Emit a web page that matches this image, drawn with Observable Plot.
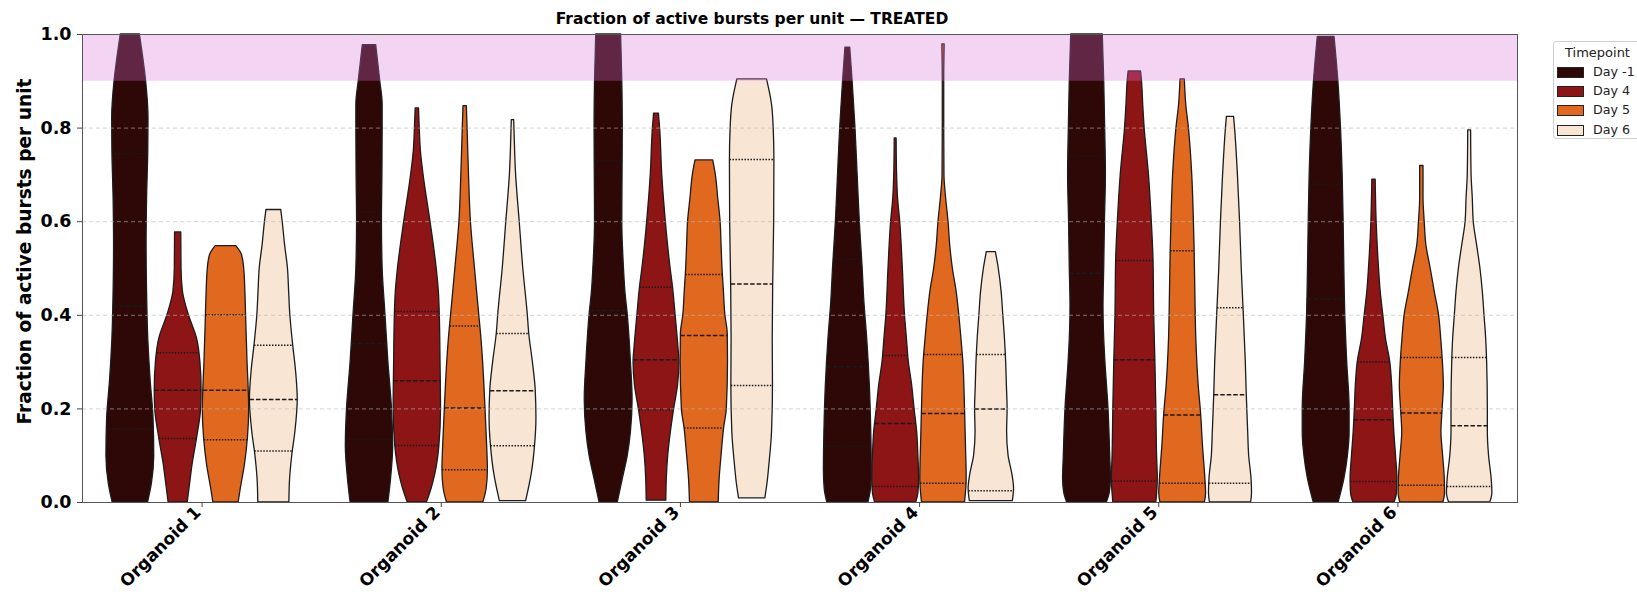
<!DOCTYPE html>
<html>
<head>
<meta charset="utf-8">
<script src="https://cdn.jsdelivr.net/npm/d3@7"></script>
<script src="https://cdn.jsdelivr.net/npm/@observablehq/plot@0.6"></script>
<style>
  html, body { margin: 0; padding: 0; background: #fff; overflow: hidden; }
  #wrap { position: relative; width: 1637px; height: 599px; font-family: "DejaVu Sans", sans-serif; }
  #title { position: absolute; top: 10px; left: 752px; transform: translateX(-50%); font-weight: bold; font-size: 15.5px; white-space: nowrap; color: #000; }
  #legend { position: absolute; left: 1553px; top: 41px; width: 100px; height: 98px; border: 1px solid #d0d0d0; border-radius: 3px; background: #fff; box-sizing: border-box; }
  #legend .lt { position: absolute; left: 11px; top: 3px; font-size: 13px; color: #222; }
  #legend .row { position: absolute; left: 3px; height: 14px; font-size: 12.7px; color: #222; }
  #legend .sw { position: absolute; left: 0; top: 2px; width: 25px; height: 9px; border: 1px solid #222; }
  #legend .lab { position: absolute; left: 36px; top: -1px; white-space: nowrap; }
</style>
</head>
<body>
<div id="wrap">
  <div id="chart"></div>
  <div id="title"></div>
  <div id="legend"></div>
</div>
<script>
// ---------- data ----------
const chartTitle = "Fraction of active bursts per unit — TREATED";
const yLabel = "Fraction of active bursts per unit";
const legendTitle = "Timepoint";
const organoids = ["Organoid 1", "Organoid 2", "Organoid 3", "Organoid 4", "Organoid 5", "Organoid 6"];
const timepoints = ["Day -1", "Day 4", "Day 5", "Day 6"];
const palette = ["#2e0707", "#8e1516", "#e0691f", "#f8e5d3"];
const yTicks = [0, 0.2, 0.4, 0.6, 0.8, 1.0];
const gridTicks = [0.2, 0.4, 0.6, 0.8];
const highlightBand = [[0.9, 1.0]];

// violin profiles: [value, relative half-width] from min to max, one per timepoint
const org1Profiles = [
  [[0,0.74],[0.04,0.9],[0.1,1.0],[0.18,0.97],[0.26,0.85],[0.35,0.75],[0.45,0.7],[0.55,0.68],[0.65,0.7],[0.75,0.75],[0.82,0.76],[0.9,0.66],[0.95,0.54],[1.0,0.4]],
  [[0,0.4],[0.04,0.5],[0.08,0.6],[0.14,0.8],[0.2,0.96],[0.24,0.98],[0.3,0.93],[0.35,0.79],[0.4,0.45],[0.45,0.2],[0.5,0.14],[0.577,0.13]],
  [[0,0.53],[0.03,0.62],[0.08,0.79],[0.14,0.92],[0.2,0.97],[0.24,0.95],[0.3,0.9],[0.4,0.84],[0.45,0.81],[0.5,0.76],[0.53,0.66],[0.548,0.43]],
  [[0,0.65],[0.05,0.68],[0.1,0.77],[0.15,0.9],[0.22,1.0],[0.28,0.93],[0.34,0.8],[0.4,0.69],[0.45,0.64],[0.5,0.59],[0.55,0.47],[0.6,0.37],[0.625,0.31]]
];
const org2Profiles = [
  [[0,0.79],[0.05,0.9],[0.12,0.99],[0.2,0.94],[0.3,0.79],[0.4,0.67],[0.5,0.55],[0.6,0.52],[0.7,0.54],[0.8,0.55],[0.85,0.55],[0.9,0.45],[0.95,0.34],[0.977,0.28]],
  [[0,0.4],[0.03,0.6],[0.06,0.75],[0.12,0.92],[0.2,0.99],[0.3,0.97],[0.4,0.94],[0.45,0.9],[0.5,0.81],[0.6,0.55],[0.7,0.26],[0.75,0.15],[0.8,0.1],[0.842,0.07]],
  [[0,0.76],[0.03,0.9],[0.07,0.95],[0.12,0.92],[0.2,0.85],[0.3,0.75],[0.35,0.68],[0.4,0.59],[0.5,0.41],[0.6,0.24],[0.7,0.16],[0.8,0.1],[0.847,0.07]],
  [[0.003,0.55],[0.06,0.78],[0.12,0.92],[0.18,0.98],[0.24,0.95],[0.3,0.83],[0.36,0.68],[0.4,0.62],[0.5,0.43],[0.6,0.28],[0.7,0.13],[0.8,0.06],[0.817,0.05]]
];
const org3Profiles = [
  [[0,0.38],[0.05,0.59],[0.1,0.8],[0.15,0.93],[0.22,1.0],[0.3,0.93],[0.4,0.8],[0.45,0.7],[0.5,0.64],[0.6,0.57],[0.7,0.58],[0.8,0.59],[0.9,0.57],[1.0,0.52]],
  [[0.004,0.41],[0.05,0.43],[0.1,0.49],[0.15,0.6],[0.2,0.74],[0.25,0.9],[0.3,0.96],[0.33,0.92],[0.4,0.8],[0.46,0.69],[0.5,0.59],[0.6,0.39],[0.7,0.24],[0.8,0.15],[0.831,0.1]],
  [[0,0.6],[0.05,0.64],[0.1,0.72],[0.16,0.83],[0.2,0.94],[0.3,0.99],[0.36,0.98],[0.4,0.88],[0.45,0.82],[0.5,0.76],[0.55,0.72],[0.6,0.68],[0.65,0.58],[0.7,0.48],[0.731,0.37]],
  [[0.009,0.55],[0.04,0.64],[0.08,0.72],[0.15,0.83],[0.25,0.87],[0.35,0.86],[0.47,0.88],[0.6,0.92],[0.73,0.93],[0.8,0.9],[0.85,0.83],[0.904,0.62]]
];
const org4Profiles = [
  [[0,0.86],[0.03,0.97],[0.07,1.0],[0.15,0.98],[0.25,0.92],[0.35,0.81],[0.43,0.69],[0.5,0.62],[0.6,0.5],[0.7,0.41],[0.8,0.32],[0.9,0.2],[0.972,0.1]],
  [[0,0.86],[0.02,0.95],[0.05,0.98],[0.1,0.95],[0.15,0.9],[0.2,0.79],[0.25,0.69],[0.3,0.55],[0.35,0.47],[0.4,0.39],[0.5,0.3],[0.6,0.19],[0.65,0.1],[0.7,0.06],[0.778,0.04]],
  [[0,0.9],[0.05,0.97],[0.12,0.94],[0.2,0.9],[0.3,0.83],[0.35,0.75],[0.4,0.66],[0.45,0.55],[0.5,0.39],[0.55,0.28],[0.6,0.21],[0.65,0.11],[0.7,0.04],[0.8,0.03],[0.9,0.03],[0.979,0.05]],
  [[0.003,0.9],[0.03,0.95],[0.06,0.88],[0.1,0.72],[0.15,0.66],[0.2,0.68],[0.25,0.65],[0.3,0.62],[0.35,0.57],[0.4,0.5],[0.45,0.43],[0.5,0.31],[0.535,0.19]]
];
const org5Profiles = [
  [[0,0.83],[0.02,0.95],[0.05,1.0],[0.1,0.97],[0.2,0.9],[0.3,0.77],[0.35,0.72],[0.42,0.69],[0.5,0.72],[0.6,0.75],[0.7,0.79],[0.8,0.76],[0.9,0.72],[1.0,0.66]],
  [[0,0.9],[0.05,0.96],[0.1,0.93],[0.2,0.9],[0.3,0.86],[0.4,0.81],[0.52,0.78],[0.6,0.71],[0.7,0.59],[0.8,0.41],[0.85,0.35],[0.9,0.3],[0.921,0.26]],
  [[0,0.93],[0.02,0.98],[0.05,0.95],[0.12,0.85],[0.19,0.77],[0.25,0.67],[0.35,0.57],[0.45,0.53],[0.54,0.5],[0.6,0.47],[0.7,0.4],[0.8,0.26],[0.85,0.15],[0.904,0.09]],
  [[0,0.86],[0.02,0.9],[0.05,0.88],[0.1,0.78],[0.15,0.74],[0.23,0.68],[0.3,0.64],[0.42,0.54],[0.5,0.47],[0.6,0.4],[0.7,0.31],[0.8,0.19],[0.824,0.15]]
];
const org6Profiles = [
  [[0,0.52],[0.05,0.76],[0.1,0.91],[0.15,0.98],[0.2,0.98],[0.3,0.88],[0.4,0.8],[0.5,0.76],[0.6,0.73],[0.7,0.69],[0.8,0.62],[0.9,0.51],[0.995,0.35]],
  [[0,0.86],[0.02,0.96],[0.05,0.98],[0.1,0.92],[0.15,0.85],[0.2,0.8],[0.25,0.76],[0.3,0.68],[0.35,0.5],[0.4,0.39],[0.45,0.28],[0.5,0.21],[0.6,0.11],[0.69,0.07]],
  [[0,0.9],[0.02,0.97],[0.05,0.96],[0.1,0.89],[0.15,0.82],[0.2,0.87],[0.25,0.92],[0.3,0.88],[0.35,0.81],[0.4,0.72],[0.45,0.54],[0.5,0.37],[0.55,0.19],[0.6,0.12],[0.65,0.07],[0.719,0.07]],
  [[0,0.86],[0.02,0.95],[0.05,0.92],[0.1,0.81],[0.15,0.76],[0.2,0.76],[0.3,0.73],[0.35,0.69],[0.4,0.62],[0.45,0.55],[0.5,0.45],[0.55,0.31],[0.6,0.17],[0.65,0.13],[0.7,0.08],[0.795,0.06]]
];

// quartiles [Q1, median, Q3] per timepoint
const org1Quartiles = [[0.157,0.42,0.745],[0.137,0.24,0.32],[0.134,0.24,0.401],[0.11,0.22,0.336]];
const org2Quartiles = [[0.135,0.34,0.62],[0.122,0.26,0.408],[0.07,0.202,0.377],[0.121,0.239,0.361]];
const org3Quartiles = [[0.2,0.41,0.73],[0.198,0.305,0.46],[0.159,0.357,0.487],[0.25,0.467,0.733]];
const org4Quartiles = [[0.12,0.29,0.52],[0.034,0.169,0.314],[0.041,0.19,0.316],[0.025,0.2,0.316]];
const org5Quartiles = [[0.2,0.49,0.74],[0.046,0.305,0.517],[0.041,0.187,0.538],[0.041,0.23,0.416]];
const org6Quartiles = [[0.2,0.435,0.68],[0.045,0.177,0.3],[0.037,0.191,0.31],[0.034,0.164,0.31]];

// ---------- build tables ----------
const allProfiles = [org1Profiles, org2Profiles, org3Profiles, org4Profiles, org5Profiles, org6Profiles];
const allQuartiles = [org1Quartiles, org2Quartiles, org3Quartiles, org4Quartiles, org5Quartiles, org6Quartiles];
const groupWidth = 0.8;
const slot = groupWidth / timepoints.length;
const half = slot / 2;

function widthAt(prof, v) {
  for (let i = 1; i < prof.length; i++) {
    if (v <= prof[i][0]) {
      const [v0, w0] = prof[i - 1], [v1, w1] = prof[i];
      return w0 + (w1 - w0) * (v - v0) / (v1 - v0);
    }
  }
  return prof[prof.length - 1][1];
}

const violinRows = [];
const medianRows = [];
const quartRows = [];
allProfiles.forEach((orgProf, gi) => {
  orgProf.forEach((prof, ti) => {
    const c = gi + (ti - (timepoints.length - 1) / 2) * slot;
    const id = gi * timepoints.length + ti;
    prof.forEach(([v, w]) => violinRows.push({id, day: timepoints[ti], v, lo: c - w * half, hi: c + w * half}));
    allQuartiles[gi][ti].forEach((q, k) => {
      const w = widthAt(prof, q);
      const row = {v: q, lo: c - w * half, hi: c + w * half, day: timepoints[ti]};
      (k === 1 ? medianRows : quartRows).push(row);
    });
  });
});
const organoidTicks = organoids.map((name, i) => ({i, name}));

const chart = Plot.plot({
  width: 1637,
  height: 599,
  marginLeft: 82,
  marginRight: 120,
  marginTop: 34,
  marginBottom: 97,
  style: {fontFamily: "DejaVu Sans, sans-serif", color: "#000", background: "transparent"},
  x: {domain: [-0.5, organoids.length - 0.5], axis: null},
  y: {domain: [0, 1], axis: null},
  color: {domain: timepoints, range: palette},
  marks: [
    Plot.areaX(violinRows, {y: "v", x1: "lo", x2: "hi", z: "id", fill: "day", stroke: "#1c1c1c", strokeWidth: 1.3, curve: "monotone-y"}),
    Plot.ruleY(quartRows, {y: "v", x1: "lo", x2: "hi", stroke: "#1a1a1a", strokeWidth: 1.5, strokeDasharray: "1.5,1.5"}),
    Plot.ruleY(medianRows, {y: "v", x1: "lo", x2: "hi", stroke: "#1a1a1a", strokeWidth: 1.5, strokeDasharray: "4.5,2"}),
    Plot.rect(highlightBand, {y1: d => d[0], y2: d => d[1], fill: "orchid", fillOpacity: 0.3}),
    Plot.gridY(gridTicks, {stroke: "#b8b8b8", strokeOpacity: 0.6, strokeDasharray: "4,3"}),
    Plot.frame({stroke: "#555", strokeWidth: 1}),
    Plot.axisY(yTicks, {tickFormat: d3.format(".1f"), fontWeight: "bold", fontSize: 17.5, tickSize: 5, tickPadding: 6, label: null, stroke: "#444"}),
    Plot.axisX(organoidTicks.map(d => d.i), {tickFormat: () => "", tickSize: 5, label: null, stroke: "#444"}),
    Plot.text(organoidTicks, {x: "i", text: "name", frameAnchor: "bottom", textAnchor: "end", lineAnchor: "middle", rotate: -45, dx: -4, dy: 7, fontSize: 17, fontWeight: "bold", fill: "#000"}),
    Plot.text([yLabel], {frameAnchor: "left", textAnchor: "middle", rotate: -90, dx: -57, dy: -17, fontSize: 18.6, fontWeight: "bold", fill: "#000"})
  ]
});
document.getElementById("chart").appendChild(chart);

document.getElementById("title").textContent = chartTitle;
const legend = document.getElementById("legend");
const lt = document.createElement("div");
lt.className = "lt"; lt.textContent = legendTitle;
legend.appendChild(lt);
timepoints.forEach((t, i) => {
  const row = document.createElement("div");
  row.className = "row";
  row.style.top = (23 + i * 19.2) + "px";
  const sw = document.createElement("div");
  sw.className = "sw"; sw.style.background = palette[i];
  const lab = document.createElement("div");
  lab.className = "lab"; lab.textContent = t;
  row.appendChild(sw); row.appendChild(lab);
  legend.appendChild(row);
});
</script>
</body>
</html>
